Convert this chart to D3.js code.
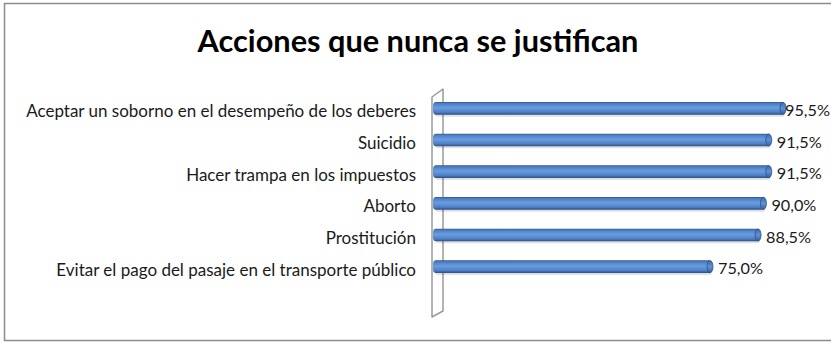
<!DOCTYPE html>
<html>
<head>
<meta charset="utf-8">
<script src="https://cdn.jsdelivr.net/npm/d3@7"></script>
<style>
  html, body { margin: 0; padding: 0; background: #fff; }
  svg { display: block; }
</style>
</head>
<body>
<svg id="chart" width="831" height="342"></svg>
<script>
// Data
const title = "Acciones que nunca se justifican";
const categories = [
  "Aceptar un soborno en el desempeño de los deberes",
  "Suicidio",
  "Hacer trampa en los impuestos",
  "Aborto",
  "Prostitución",
  "Evitar el pago del pasaje en el transporte público"
];
const values = [95.5, 91.5, 91.5, 90.0, 88.5, 75.0];
const valueLabels = ["95,5%", "91,5%", "91,5%", "90,0%", "88,5%", "75,0%"];

const W = 831, H = 342;
const svg = d3.select("#chart");
const font = "Lato, 'Open Sans', sans-serif";

// Fit a font size so a string spans a target width
function fitSize(text, target, weight) {
  const t = svg.append("text").attr("font-family", font)
    .attr("font-weight", weight).attr("font-size", 100).text(text);
  const w = t.node().getComputedTextLength();
  t.remove();
  return 100 * target / w;
}

// Outer frame
svg.append("rect")
  .attr("x", 4.5).attr("y", 3.5).attr("width", W + 10).attr("height", 337)
  .attr("fill", "#fff").attr("stroke", "#8c8c8c").attr("stroke-width", 1.5);

// Title
const titleSize = fitSize(title, 441, "bold");
svg.append("text")
  .attr("x", 418).attr("y", 52)
  .attr("text-anchor", "middle")
  .attr("font-family", font).attr("font-weight", "bold")
  .attr("font-size", titleSize)
  .attr("fill", "#000")
  .text(title);

// Scales (3D depth offset pushes the bar faces left of the zero plane)
const depth = 12;
const x = d3.scaleLinear().domain([0, 100]).range([445, 801]);
const y = d3.scaleBand().domain(categories).range([92.5, 282.5]).paddingInner(0.6).paddingOuter(0.3);

// Side wall (3D)
svg.append("path")
  .attr("d", "M432,97 L443,89 L443,311 L432,317 Z")
  .attr("fill", "#fff").attr("stroke", "#9a9a9a").attr("stroke-width", 1.5)
  .attr("stroke-linejoin", "round");

// Cylinder gradient
const defs = svg.append("defs");
const grad = defs.append("linearGradient").attr("id", "cyl")
  .attr("x1", 0).attr("y1", 0).attr("x2", 0).attr("y2", 1);
[[0, "#2f568f"], [0.12, "#4c7dc2"], [0.45, "#6a9de0"], [0.8, "#4d80c6"], [1, "#2b4d83"]]
  .forEach(([o, c]) => grad.append("stop").attr("offset", o).attr("stop-color", c));
const capGrad = defs.append("linearGradient").attr("id", "cap")
  .attr("x1", 0).attr("y1", 0).attr("x2", 0).attr("y2", 1);
[[0, "#3e69a8"], [0.5, "#5f91d6"], [1, "#375f9c"]]
  .forEach(([o, c]) => capGrad.append("stop").attr("offset", o).attr("stop-color", c));

const bh = y.bandwidth();
const rows = categories.map((c, i) => ({ c, v: values[i], label: valueLabels[i] }));

const g = svg.append("g");
// soft shadow under each bar
g.selectAll("rect.shadow").data(rows).join("rect")
  .attr("class", "shadow")
  .attr("x", x(0) - depth + 2)
  .attr("y", d => y(d.c) + 2)
  .attr("width", d => x(d.v) - x(0) + depth - 2)
  .attr("height", bh)
  .attr("rx", 3)
  .attr("fill", "#000").attr("opacity", 0.12);

g.selectAll("rect.bar").data(rows).join("rect")
  .attr("class", "bar")
  .attr("x", x(0) - depth)
  .attr("y", d => y(d.c))
  .attr("width", d => x(d.v) - x(0) + depth)
  .attr("height", bh)
  .attr("rx", 3).attr("ry", 4)
  .attr("fill", "url(#cyl)");

// rounded end caps
g.selectAll("ellipse.cap").data(rows).join("ellipse")
  .attr("class", "cap")
  .attr("cx", d => x(d.v) - 2)
  .attr("cy", d => y(d.c) + bh / 2)
  .attr("rx", 3)
  .attr("ry", bh / 2 - 0.3)
  .attr("fill", "url(#cap)")
  .attr("stroke", "#2c4f86").attr("stroke-width", 0.8);

// Category labels
const catSize = fitSize(categories[0], 390, "normal");
svg.append("g").selectAll("text").data(rows).join("text")
  .attr("x", 416)
  .attr("y", d => y(d.c) + bh / 2 + 3)
  .attr("dy", "0.35em")
  .attr("text-anchor", "end")
  .attr("font-family", font).attr("font-size", catSize)
  .attr("fill", "#1a1a1a")
  .text(d => d.c);

// Value labels (kept inside the frame on the right)
const valSize = fitSize("95,5%", 45, "normal");
svg.append("g").selectAll("text").data(rows).join("text")
  .attr("font-family", font).attr("font-size", valSize)
  .attr("fill", "#1a1a1a")
  .attr("y", d => y(d.c) + bh / 2 + 2)
  .attr("dy", "0.35em")
  .text(d => d.label)
  .attr("x", function(d) {
    const w = this.getComputedTextLength();
    return Math.min(x(d.v) + 6, 830 - w);
  });
</script>
</body>
</html>
